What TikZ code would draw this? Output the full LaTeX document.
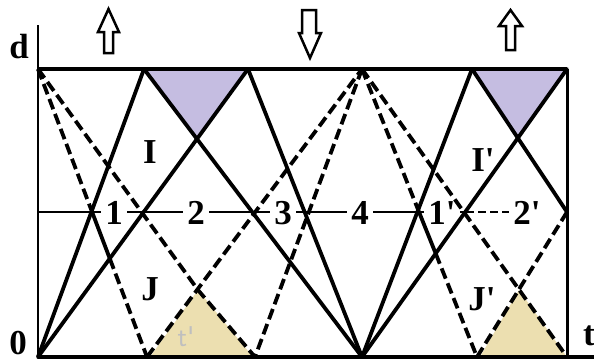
\documentclass[tikz,border=0pt]{standalone}
\usepackage{fontspec}
\setmainfont{Liberation Serif}
\definecolor{lav}{RGB}{197,189,225}
\definecolor{sand}{RGB}{236,223,176}
\newcommand{\pr}{\textquotesingle}
\begin{document}
\begin{tikzpicture}[x=1pt,y=-1pt,
  solidl/.style={line width=3.8pt, line cap=round},
  dashl/.style={line width=3.8pt, dash pattern=on 11pt off 5pt},
  lab/.style={font=\fontsize{35}{35}\selectfont\bfseries, inner sep=0pt},
  midlab/.style={lab, fill=white, inner xsep=4pt, inner ysep=1pt},
  blockarrow/.style={draw, line width=2.5pt, fill=white, line join=miter}]
\useasboundingbox (0,0) rectangle (594,362);
% key points
\coordinate (TL) at (38,69);
\coordinate (TR) at (567,69);
\coordinate (BL) at (38,357);
\coordinate (BR) at (567,357);
\coordinate (BE) at (594,357);
\coordinate (AX) at (38,25);
\coordinate (P1) at (144,69);
\coordinate (P2) at (248,69);
\coordinate (M) at (362,69);
\coordinate (Q1) at (472,69);
\coordinate (B1) at (147,357);
\coordinate (B2) at (255,357);
\coordinate (BM) at (362,357);
\coordinate (B4) at (477,357);
\coordinate (R) at (567,212);
\coordinate (A1) at (198,290);
\coordinate (A2) at (519,290);
\coordinate (U1) at (197,139);
\coordinate (U2) at (518,138);
\coordinate (X1) at (92.1,212);
\coordinate (Y1) at (109.8,258.6);
\coordinate (X2) at (419,212);
\coordinate (Y2) at (435.7,253.5);
\coordinate (H0) at (38,212);
\coordinate (H1) at (466,212);
\coordinate (H2) at (512,212);
% shaded regions
\fill[lav] (P1) -- (P2) -- (U1) -- cycle;
\fill[lav] (Q1) -- (TR) -- (U2) -- cycle;
\fill[sand] (150,357) -- (A1) -- (253,357) -- cycle;
\fill[sand] (480,357) -- (A2) -- (BR) -- cycle;
\node[font=\fontsize{28}{28}\selectfont\sffamily, text=gray!50] (tg) at (186,337) {t\pr};
% middle line
\draw[line width=2.6pt] (H0) -- (H1);
\draw[line width=2.6pt, dash pattern=on 8pt off 4pt] (H1) -- (H2);
\node[midlab] (n1) at (114,213) {1};
\node[midlab] (n2) at (196,213) {2};
\node[midlab] (n3) at (283,213) {3};
\node[midlab] (n4) at (360,213) {4};
\node[midlab] (n1p) at (442,213) {1\pr};
\node[midlab] (n2p) at (527,213) {2\pr};
% solid characteristics
\draw[solidl] (BL) -- (P1);
\draw[solidl] (BL) -- (P2);
\draw[solidl] (P1) -- (BM);
\draw[solidl] (P2) -- (BM);
\draw[solidl] (BM) -- (Q1);
\draw[solidl] (BM) -- (TR);
\draw[solidl] (Q1) -- (R);
% mixed lines
\draw[dashl] (TL) -- (X1);
\draw[solidl] (X1) -- (Y1);
\draw[dashl] (Y1) -- (B1);
\draw[dashl] (M) -- (X2);
\draw[solidl] (X2) -- (Y2);
\draw[dashl] (Y2) -- (B4);
% dashed characteristics
\draw[dashl] (TL) -- (A1) -- (B2);
\draw[dashl] (B1) -- (M);
\draw[dashl] (M) -- (B2);
\draw[dashl] (M) -- (BR);
\draw[dashl] (B4) -- (R);
% frame
\draw[line width=1.8pt] (AX) -- (BL);
\draw[line width=3.8pt] (TL) -- (TR);
\draw[line width=3pt] (TR) -- (BR);
\draw[line width=3.8pt] (BL) -- (BE);
% labels
\node[lab] (lI) at (150,152) {I};
\node[lab] (lJ) at (150,289) {J};
\node[lab] (lIp) at (483,160) {I\pr};
\node[lab] (lJp) at (482,299) {J\pr};
\node[lab] (ld) at (19,47) {d};
\node[lab] (l0) at (18,343) {0};
\node[lab] (lt) at (589,336) {t};
% block arrows
\draw[blockarrow] (108.5,9) -- (119,32) -- (113,32) -- (113,53) -- (104,53) -- (104,32) -- (98,32) -- cycle;
\draw[blockarrow] (310,58) -- (321,33) -- (316,33) -- (316,10) -- (302,10) -- (302,33) -- (299,33) -- cycle;
\draw[blockarrow] (510.5,10) -- (522,26) -- (515,26) -- (515,50) -- (506,50) -- (506,26) -- (499,26) -- cycle;
\end{tikzpicture}
\end{document}
